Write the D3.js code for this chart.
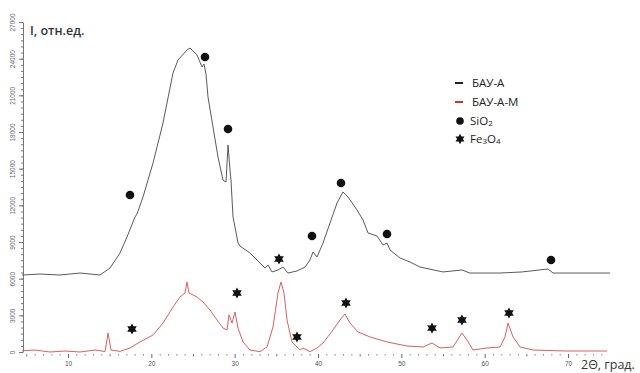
<!DOCTYPE html>
<html>
<head>
<meta charset="utf-8">
<script src="https://cdn.jsdelivr.net/npm/d3@7"></script>
<style>
  body { margin: 0; background: #fff; }
  svg { display: block; font-family: "Open Sans", "Noto Sans", sans-serif; }
</style>
</head>
<body>
<svg id="chart" width="640" height="373"></svg>
<script>
// БАУ-А (black curve)
const bauDeg = [4.48, 6.64, 9.04, 11.44, 13.84, 15.04, 16.24, 17.08, 18.04, 18.28, 19.0, 20.2, 21.4, 22.6, 23.2,
  24.28, 24.64, 25.48, 26.08, 26.32, 26.56, 26.8, 27.4, 28.0, 28.6, 28.96, 29.2, 29.44, 29.56, 29.8, 30.04,
  30.4, 30.64, 31.84, 33.04, 33.64, 34.0, 34.48, 35.2, 35.8, 36.4, 37.48, 38.44, 39.04, 39.4, 39.88, 40.6,
  41.44, 42.28, 43.0, 43.6, 44.68, 45.4, 46.0, 47.08, 47.8, 48.28, 48.64, 49.84, 51.04, 52.24, 55.0, 57.28,
  58.24, 61.84, 64.48, 67.6, 68.2, 71.44, 75.04];
const bauI = [6300, 6380, 6300, 6460, 6300, 6870, 8100, 9410, 11050, 11290, 12680, 15460, 18740, 22830, 23890,
  24710, 24870, 24300, 23320, 23560, 22750, 20860, 18410, 15950, 14070, 13910, 16940, 14890, 14070, 11050, 10230,
  8920, 8670, 8100, 7280, 6870, 7120, 6550, 6710, 6950, 6460, 6630, 6950, 7530, 8180, 7770, 8920,
  10550, 12190, 13090, 12680, 11620, 10800, 9740, 9490, 8750, 8920, 8350, 7690, 7360, 6950, 6550, 6710,
  6460, 6460, 6550, 6790, 6460, 6460, 6460];

// БАУ-А-М (red curve)
const bauMDeg = [4.48, 6.04, 7.84, 9.64, 11.44, 13.24, 14.44, 14.8, 15.16, 16.24, 17.44, 18.64, 20.2, 21.4, 22.6,
  23.44, 24.04, 24.28, 24.52, 25.48, 26.2, 27.04, 27.88, 28.6, 29.08, 29.32, 29.68, 30.04, 30.4, 31.0, 31.84,
  33.04, 33.88, 34.6, 35.2, 35.56, 35.92, 36.28, 36.88, 37.84, 38.2, 39.04, 39.88, 40.6, 41.8, 42.64, 43.24,
  43.84, 44.8, 46.24, 48.28, 50.68, 52.6, 53.68, 54.64, 56.2, 57.28, 57.88, 58.6, 60.28, 61.84, 62.44, 62.8,
  63.4, 64.24, 65.8, 69.88, 74.68];
const bauMI = [100, 160, 0, 80, 0, 160, 40, 1550, 160, 50, 330, 820, 1390, 2370, 3680,
  4500, 4830, 5730, 4830, 4500, 4090, 3440, 2620, 1960, 1800, 3030, 2370, 3270, 1960, 820, 160,
  30, 410, 2050, 4830, 5730, 4830, 2620, 820, 160, 330, 30, 330, 740, 1800, 2620, 3110,
  2370, 1640, 1230, 820, 490, 410, 740, 330, 410, 1550, 980, 160, 330, 410, 1230, 2370,
  1230, 410, 160, 80, 80];

// phase markers
const sio2Deg = [17.44, 26.44, 29.2, 39.28, 42.76, 48.28, 67.96];
const sio2I = [12850, 24140, 18250, 9490, 13830, 9650, 7530];
const fe3o4Deg = [17.68, 30.28, 35.32, 37.48, 43.36, 53.68, 57.28, 62.92];
const fe3o4I = [1880, 4830, 7610, 1230, 4010, 1960, 2620, 3190];

const xTicks = [10, 20, 30, 40, 50, 60, 70];
const yTicks = [0, 3000, 6000, 9000, 12000, 15000, 18000, 21000, 24000, 27000];

const svg = d3.select('#chart');

const x = d3.scaleLinear().domain([4.48, 75.04]).range([22, 610]);
const y = d3.scaleLinear().domain([0, 27000]).range([352, 22]);

// y axis
const yMinor = d3.range(0, 27001, 500);
svg.append('g')
  .attr('transform', 'translate(23,0)')
  .call(d3.axisLeft(y).tickValues(yMinor).tickSize(2).tickSizeOuter(0).tickFormat(''))
  .call((g) => g.selectAll('line, path').attr('stroke', '#777'));

const yAxis = svg.append('g')
  .attr('transform', 'translate(23,0)')
  .call(d3.axisLeft(y).tickValues(yTicks).tickSize(4).tickSizeOuter(0).tickFormat(d3.format('d')));
yAxis.select('.domain').remove();
yAxis.selectAll('line').attr('stroke', '#777');
yAxis.selectAll('text')
  .attr('x', null).attr('dy', null)
  .attr('transform', 'translate(-8,0) rotate(-90)')
  .attr('text-anchor', 'middle')
  .attr('fill', '#666')
  .attr('font-size', 6.5);

// x axis
const xMinor = d3.range(5, 75, 1).filter((v) => v % 5 !== 0);
svg.append('g')
  .attr('transform', 'translate(0,354)')
  .call(d3.axisBottom(x).tickValues(xMinor).tickSize(1.5).tickFormat(''))
  .call((g) => g.select('.domain').remove())
  .call((g) => g.selectAll('line').attr('stroke', '#888'));
svg.append('g')
  .attr('transform', 'translate(0,354)')
  .call(d3.axisBottom(x).tickValues([5, 15, 25, 35, 45, 55, 65]).tickSize(2.5).tickFormat(''))
  .call((g) => g.select('.domain').remove())
  .call((g) => g.selectAll('line').attr('stroke', '#777'));
const xAxis = svg.append('g')
  .attr('transform', 'translate(0,354)')
  .call(d3.axisBottom(x).tickValues(xTicks).tickSize(4));
xAxis.select('.domain').remove();
xAxis.selectAll('line').attr('stroke', '#666');
xAxis.selectAll('text').attr('fill', '#555').attr('font-size', 6.5);

// curves
const line = d3.line().x((d) => x(d[0])).y((d) => y(d[1]));

svg.append('path')
  .datum(d3.zip(bauDeg, bauI))
  .attr('d', line)
  .attr('fill', 'none')
  .attr('stroke', '#5a5a5a')
  .attr('stroke-width', 1);

svg.append('path')
  .datum(d3.zip(bauMDeg, bauMI))
  .attr('d', line)
  .attr('fill', 'none')
  .attr('stroke', '#d8605e')
  .attr('stroke-width', 1);

// six-pointed star symbol
const hexStar = {
  draw(ctx, size) {
    const R = Math.sqrt(size) / 1.6;
    const r = R * 0.55;
    for (let i = 0; i < 12; i++) {
      const a = (Math.PI / 6) * i - Math.PI / 2;
      const rr = i % 2 === 0 ? R : r;
      if (i === 0) ctx.moveTo(rr * Math.cos(a), rr * Math.sin(a));
      else ctx.lineTo(rr * Math.cos(a), rr * Math.sin(a));
    }
    ctx.closePath();
  },
};

svg.append('g')
  .selectAll('circle')
  .data(d3.zip(sio2Deg, sio2I))
  .enter()
  .append('circle')
  .attr('cx', (d) => x(d[0]))
  .attr('cy', (d) => y(d[1]))
  .attr('r', 4.3)
  .attr('fill', '#111');

svg.append('g')
  .selectAll('path')
  .data(d3.zip(fe3o4Deg, fe3o4I))
  .enter()
  .append('path')
  .attr('transform', (d) => `translate(${x(d[0])},${y(d[1])})`)
  .attr('d', d3.symbol().type(hexStar).size(80))
  .attr('fill', '#111');

// axis titles
svg.append('text')
  .attr('x', 30).attr('y', 35)
  .attr('font-size', 12.5).attr('font-weight', 600).attr('fill', '#333')
  .text('I, отн.ед.');

svg.append('text')
  .attr('x', 581).attr('y', 369)
  .attr('font-size', 12.5).attr('fill', '#333')
  .text('2Θ, град.');

// legend
const lg = svg.append('g').attr('font-size', 11.5).attr('fill', '#222');
lg.append('line').attr('x1', 455).attr('x2', 463).attr('y1', 83).attr('y2', 83)
  .attr('stroke', '#222').attr('stroke-width', 2);
lg.append('text').attr('x', 472).attr('y', 87).text('БАУ-А');
lg.append('line').attr('x1', 455).attr('x2', 463).attr('y1', 102).attr('y2', 102)
  .attr('stroke', '#d62f2f').attr('stroke-width', 2);
lg.append('text').attr('x', 472).attr('y', 106).text('БАУ-А-М');
lg.append('circle').attr('cx', 460).attr('cy', 121).attr('r', 3.8).attr('fill', '#111');
const t1 = lg.append('text').attr('x', 470).attr('y', 125).text('SiO');
t1.append('tspan').attr('font-size', 8).attr('dy', 1).text('2');
lg.append('path').attr('transform', 'translate(460,139)')
  .attr('d', d3.symbol().type(hexStar).size(70)).attr('fill', '#111');
const t2 = lg.append('text').attr('x', 470).attr('y', 143).text('Fe');
t2.append('tspan').attr('font-size', 8).attr('dy', 1).text('3');
t2.append('tspan').attr('dy', -1).text('O');
t2.append('tspan').attr('font-size', 8).attr('dy', 1).text('4');
</script>
</body>
</html>
